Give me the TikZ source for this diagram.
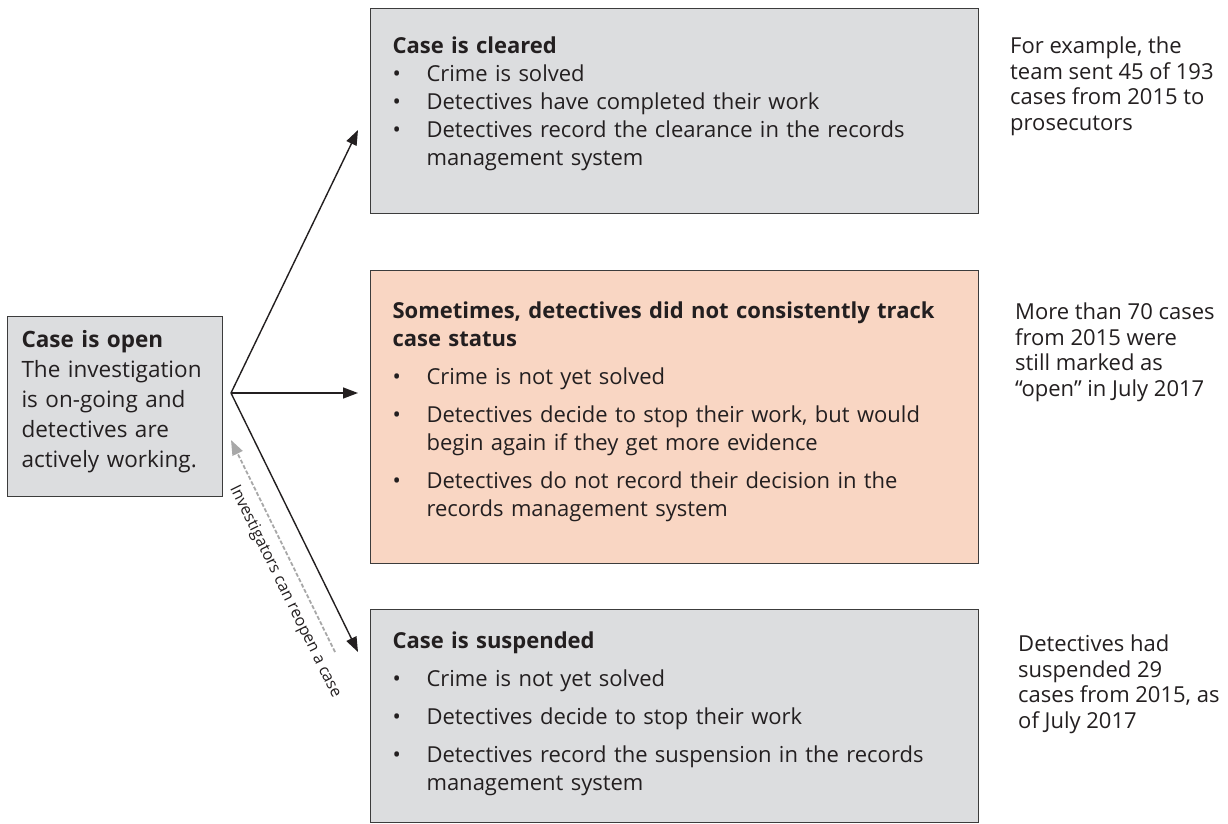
\documentclass[tikz,border=0pt]{standalone}
\usepackage{fontspec}
\setmainfont{Open Sans}
\usetikzlibrary{arrows.meta}
\definecolor{boxgray}{HTML}{DCDDDF}
\definecolor{boxpeach}{HTML}{F9D6C3}
\definecolor{edgecol}{HTML}{3C3C3C}
\definecolor{ink}{HTML}{231F20}
\definecolor{reopencol}{HTML}{A8A8A8}
\newcommand{\bitem}[1]{\par\hangindent=34pt\hangafter=1\noindent\makebox[34pt][l]{\textbullet}#1}
\begin{document}
\begin{tikzpicture}[x=1pt,y=-1pt,
  every node/.style={text=ink},
  casebox/.style={draw=edgecol,line width=1.1pt,anchor=north west,inner xsep=22pt,inner ysep=0pt,
     text width=564pt,minimum width=608pt,align=left,font=\fontsize{22}{28}\selectfont},
  sidetext/.style={anchor=north west,inner sep=0pt,align=left,font=\fontsize{22}{25.5}\selectfont},
  flow/.style={draw=ink,line width=1.4pt,-{Triangle[length=15pt,width=11pt]}},
  reopenarrow/.style={draw=reopencol,line width=1.8pt,dash pattern=on 4pt off 2pt,-{Triangle[length=15pt,width=11pt]}}
]
\useasboundingbox[fill=white] (0,0) rectangle (1228,824);

\node[casebox,fill=boxgray,minimum height=205pt] (cleared) at (370,8)
 {\setlength{\parskip}{0pt}\textbf{Case is cleared}
  \bitem{Crime is solved}
  \bitem{Detectives have completed their work}
  \bitem{Detectives record the clearance in the records\newline management system}\par\vspace{14pt}};

\node[casebox,fill=boxpeach,minimum height=293pt] (unclear) at (370,270)
 {\setlength{\parskip}{10pt}\textbf{Sometimes, detectives did not consistently track\newline case status}
  \bitem{Crime is not yet solved}
  \bitem{Detectives decide to stop their work, but would\newline begin again if they get more evidence}
  \bitem{Detectives do not record their decision in the\newline records management system}\par\vspace{10pt}};

\node[casebox,fill=boxgray,minimum height=213pt] (suspended) at (370,609)
 {\setlength{\parskip}{10pt}\textbf{Case is suspended}
  \bitem{Crime is not yet solved}
  \bitem{Detectives decide to stop their work}
  \bitem{Detectives record the suspension in the records\newline management system}\par\vspace{4pt}};

\node[draw=edgecol,line width=1.1pt,fill=boxgray,anchor=north west,minimum width=215pt,minimum height=180pt,
      inner xsep=14pt,inner ysep=0pt,text width=187pt,align=left,font=\fontsize{22.5}{30}\selectfont] (open) at (7,316)
 {\textbf{Case is open}\\The investigation\\is on-going and\\detectives are\\actively working.\par\vspace{10pt}};

\node[sidetext] (noteA) at (1010,37) {For example, the\\team sent 45 of 193\\cases from 2015 to\\prosecutors};
\node[sidetext] (noteB) at (1015,303) {More than 70 cases\\from 2015 were\\still marked as\\“open” in July 2017};
\node[sidetext] (noteC) at (1018,635) {Detectives had\\suspended 29\\cases from 2015, as\\of July 2017};

\coordinate (hub) at (231,393);
\coordinate (tipC) at (358,130);
\coordinate (tipU) at (358,393);
\coordinate (tipS) at (358,652);
\coordinate (reS) at (335,652);
\coordinate (reE) at (231,440);

\draw[flow] (hub) -- (tipC);
\draw[flow] (hub) -- (tipU);
\draw[flow] (hub) -- (tipS);
\draw[reopenarrow] (reS) -- (reE);

\node[rotate=-63.9,inner sep=0pt,font=\fontsize{16}{18}\selectfont] (reopenlabel) at (285,592) {Investigators can reopen a case};
\end{tikzpicture}
\end{document}
